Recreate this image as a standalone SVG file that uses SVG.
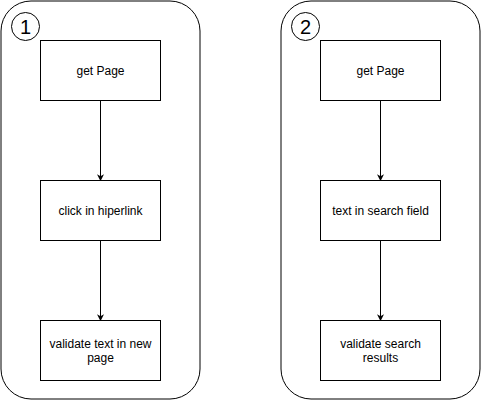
<svg xmlns="http://www.w3.org/2000/svg" width="481" height="401" viewBox="0 0 481 401">
<defs>
<style>
.panel{fill:#fff;stroke:#000;stroke-width:1}
.box{fill:#fff;stroke:#000;stroke-width:1}
.t{font-family:"Liberation Sans",Arial,sans-serif;font-size:12px;fill:#000;text-anchor:middle}
.num{font-family:"Liberation Sans",Arial,sans-serif;font-size:20px;fill:#000;text-anchor:middle}
.edge{stroke:#000;stroke-width:1;fill:none;marker-end:url(#ah)}
</style>
<marker id="ah" viewBox="0 0 10 10" refX="9" refY="5" markerWidth="7" markerHeight="7" markerUnits="userSpaceOnUse" orient="auto">
<path d="M0,0 L10,5 L0,10 L3,5 Z" fill="#000"/>
</marker>
</defs>
<rect width="481" height="401" fill="#fff"/>
<g id="panel1">
<rect class="panel" x="1" y="1" width="199" height="398" rx="30" ry="30"/>
<circle cx="25.5" cy="26.5" r="14" fill="#fff" stroke="#000"/>
<text class="num" x="25.5" y="33.5">1</text>
</g>
<g id="panel2">
<rect class="panel" x="281" y="1" width="199" height="398" rx="30" ry="30"/>
<circle cx="305.5" cy="26.5" r="14" fill="#fff" stroke="#000"/>
<text class="num" x="305.5" y="33.5">2</text>
</g>
<g id="connectors">
<line class="edge" x1="100.5" y1="100.5" x2="100.5" y2="180.5"/>
<line class="edge" x1="100.5" y1="240.5" x2="100.5" y2="320.5"/>
<line class="edge" x1="380.5" y1="100.5" x2="380.5" y2="180.5"/>
<line class="edge" x1="380.5" y1="240.5" x2="380.5" y2="320.5"/>
</g>
<g id="n1a">
<rect class="box" x="40.5" y="40.5" width="120" height="60"/>
<text class="t" x="100.5" y="75">get Page</text>
</g>
<g id="n1b">
<rect class="box" x="40.5" y="180.5" width="120" height="60"/>
<text class="t" x="100.5" y="215">click in hiperlink</text>
</g>
<g id="n1c">
<rect class="box" x="40.5" y="320.5" width="120" height="60"/>
<text class="t" x="100.5" y="348">validate text in new</text>
<text class="t" x="100.5" y="362">page</text>
</g>
<g id="n2a">
<rect class="box" x="320.5" y="40.5" width="120" height="60"/>
<text class="t" x="380.5" y="75">get Page</text>
</g>
<g id="n2b">
<rect class="box" x="320.5" y="180.5" width="120" height="60"/>
<text class="t" x="380.5" y="215">text in search field</text>
</g>
<g id="n2c">
<rect class="box" x="320.5" y="320.5" width="120" height="60"/>
<text class="t" x="380.5" y="348">validate search</text>
<text class="t" x="380.5" y="362">results</text>
</g>
</svg>
